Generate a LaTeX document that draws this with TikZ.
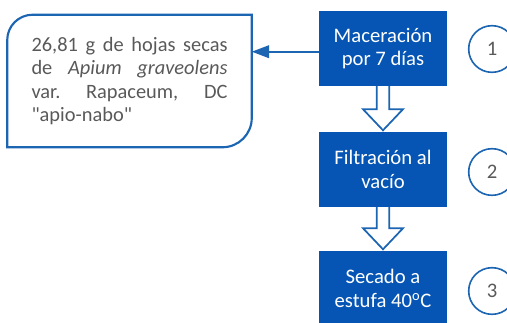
\documentclass[tikz,border=0pt]{standalone}
\usepackage{fontspec}
\setmainfont{Carlito}[Ligatures=TeXOff]
\usetikzlibrary{arrows.meta}

\definecolor{procblue}{RGB}{6,85,180}
\definecolor{lineblue}{RGB}{28,101,178}
\definecolor{txtgray}{RGB}{89,89,89}

\begin{document}
\begin{tikzpicture}[x=0.75pt,y=-0.75pt,
  procbox/.style={fill=procblue, text=white, align=center, inner sep=0pt,
    minimum width=96pt, minimum height=56pt,
    font=\fontsize{15.5}{17.6}\selectfont},
  srcbox/.style={inner sep=0pt, minimum width=183pt, minimum height=99pt,
    text width=147pt, align=justify, text=txtgray,
    font=\fontsize{15.3}{17.6}\selectfont\frenchspacing},
  srcline/.style={draw=lineblue, line width=1.6pt},
  hollow/.style={draw=lineblue, fill=white, line width=1.3pt, line join=miter},
  stepnum/.style={circle, draw=lineblue, line width=1.2pt, minimum size=35pt,
    inner sep=0pt, text=txtgray, font=\fontsize{15.5}{17.6}\selectfont}]

\useasboundingbox (0,0) rectangle (507,322);

% pasos del proceso
\node[procbox] (mac) at (383,48.5) {Maceración\\por 7 días};
\node[procbox] (fil) at (383,169.5) {Filtración al\\vacío};
\node[procbox] (sec) at (383,288.5) {Secado a\\estufa 40\textsuperscript{o}C};

% material de partida
\node[srcbox] (src) at (129.5,81) {26,81 g de hojas secas\linebreak de \textit{Apium graveolens}\linebreak var. Rapaceum, DC\linebreak "apio-nabo"};
\draw[srcline] ([yshift=-19pt]src.north west) arc[start angle=180, end angle=90, radius=19pt]
  -- (src.north east) -- ([yshift=22pt]src.south east)
  arc[start angle=0, end angle=-90, radius=22pt] -- (src.south west) -- cycle;

\draw[-{Triangle[length=13pt,width=9.5pt]}, lineblue, line width=1.3pt]
  ([yshift=-2.4pt]mac.west) -- ([yshift=-2.4pt]mac.west -| src.east);

% flechas huecas
\foreach \a/\b in {mac/fil, fil/sec}
  \draw[hollow] ([xshift=-4.7pt]\a.south) -- ([xshift=-4.7pt,yshift=17pt]\b.north)
    -- ([xshift=-15pt,yshift=17pt]\b.north) -- ([yshift=1.2pt]\b.north)
    -- ([xshift=15pt,yshift=17pt]\b.north) -- ([xshift=4.7pt,yshift=17pt]\b.north)
    -- ([xshift=4.7pt]\a.south);

% numeros
\node[stepnum] (n1) at (492,49) {1};
\node[stepnum] (n2) at (492,172) {2};
\node[stepnum] (n3) at (492,291) {3};
\end{tikzpicture}
\end{document}
